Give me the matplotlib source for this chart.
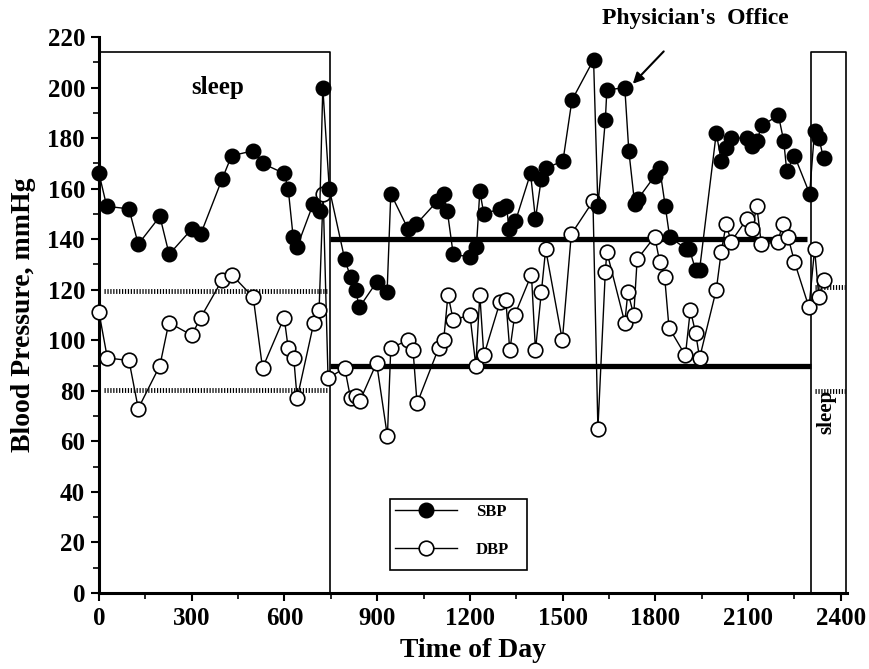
import matplotlib
matplotlib.use("Agg")
import matplotlib.pyplot as plt
from matplotlib.ticker import MultipleLocator
from matplotlib.patches import Rectangle

# ---------------- data ----------------
sbp_time = [0, 25, 97, 127, 197, 227, 300, 329, 399, 429, 499, 529, 599, 612, 628, 641,
            693, 714, 724, 745, 795, 814, 830, 842, 898, 932, 944, 1000, 1027, 1094, 1115,
            1127, 1146, 1200, 1221, 1232, 1245, 1297, 1318, 1327, 1347, 1396, 1412, 1431,
            1445, 1501, 1530, 1600, 1614, 1638, 1643, 1701, 1714, 1733, 1744, 1798, 1814,
            1832, 1846, 1900, 1910, 1930, 1943, 1997, 2013, 2029, 2043, 2096, 2112, 2128,
            2145, 2198, 2215, 2225, 2250, 2299, 2315, 2329, 2344]
sbp = [166, 153, 152, 138, 149, 134, 144, 142, 164, 173, 175, 170, 166, 160, 141, 137,
       154, 151, 200, 160, 132, 125, 120, 113, 123, 119, 158, 144, 146, 155, 158,
       151, 134, 133, 137, 159, 150, 152, 153, 144, 147, 166, 148, 164,
       168, 171, 195, 211, 153, 187, 199, 200, 175, 154, 156, 165, 168,
       153, 141, 136, 136, 128, 128, 182, 171, 176, 180, 180, 177, 179,
       185, 189, 179, 167, 173, 158, 183, 180, 172]

dbp_time = [0, 27, 97, 127, 197, 226, 300, 329, 399, 429, 499, 529, 599, 612, 630, 641,
            695, 712, 725, 741, 795, 814, 830, 844, 898, 933, 944, 1000, 1016, 1029, 1099,
            1115, 1129, 1146, 1200, 1219, 1232, 1245, 1297, 1316, 1329, 1345, 1399, 1412,
            1431, 1445, 1499, 1528, 1598, 1614, 1638, 1643, 1701, 1711, 1730, 1741, 1798,
            1814, 1830, 1844, 1897, 1913, 1930, 1943, 1997, 2013, 2029, 2045, 2096, 2113,
            2128, 2143, 2196, 2212, 2229, 2250, 2297, 2315, 2329, 2344]
dbp = [111, 93, 92, 73, 90, 107, 102, 109, 124, 126, 117, 89, 109, 97, 93, 77,
       107, 112, 158, 85, 89, 77, 78, 76, 91, 62, 97, 100, 96, 75, 97,
       100, 118, 108, 110, 90, 118, 94, 115, 116, 96, 110, 126, 96,
       119, 136, 100, 142, 155, 65, 127, 135, 107, 119, 110, 132, 141,
       131, 125, 105, 94, 112, 103, 93, 120, 135, 146, 139, 148, 144,
       153, 138, 139, 146, 141, 131, 113, 136, 117, 124]

x_ticks = [0, 300, 600, 900, 1200, 1500, 1800, 2100, 2400]
y_ticks = [0, 20, 40, 60, 80, 100, 120, 140, 160, 180, 200, 220]

sleep_start_end = [0, 747]
sleep_night = [2305, 2418]
sleep_top = 214
wake_limits = [140, 90]
sleep_limits_left = [119.5, 80.5]
sleep_limits_right = [121, 80]

# ---------------- style ----------------
serif = ["Liberation Serif", "DejaVu Serif"]
plt.rcParams["font.family"] = serif
plt.rcParams["font.weight"] = "bold"

fig = plt.figure(figsize=(8.7, 6.69), dpi=100)
ax = fig.add_axes([0.1138, 0.1136, 0.8598, 0.8311])

ax.set_xlim(0, 2420)
ax.set_ylim(0, 220)

# sleep boxes
for (x0, x1) in [sleep_start_end, sleep_night]:
    ax.plot([x0, x0, x1, x1], [0, sleep_top, sleep_top, 0], color="black", lw=1.2, zorder=1)

# thick wake reference lines
ax.plot([747, 2292], [wake_limits[0]] * 2, color="black", lw=3.8, solid_capstyle="butt", zorder=2)
ax.plot([747, 2305], [wake_limits[1]] * 2, color="black", lw=3.8, solid_capstyle="butt", zorder=2)

# dotted sleep reference lines
for yv in sleep_limits_left:
    ax.plot([15, 742], [yv, yv], color="black", lw=3.5, linestyle=(0, (0.25, 0.35)), zorder=2)
for yv in sleep_limits_right:
    ax.plot([2315, 2412], [yv, yv], color="black", lw=3.5, linestyle=(0, (0.25, 0.35)), zorder=2)

# data
ax.plot(sbp_time, sbp, color="black", lw=1.0, marker="o", markersize=10.5,
        markerfacecolor="black", markeredgecolor="black", markeredgewidth=1.0,
        label="SBP", zorder=4, clip_on=False)
ax.plot(dbp_time, dbp, color="black", lw=1.0, marker="o", markersize=10.5,
        markerfacecolor="white", markeredgecolor="black", markeredgewidth=1.2,
        label="DBP", zorder=3, clip_on=False)

# text
ax.text(385, 200, "sleep", fontsize=18, fontweight="bold", ha="center", va="center")
ax.text(2353, 71.5, "sleep", fontsize=15, fontweight="bold", ha="center", va="center", rotation=90)
ax.annotate("Physician's  Office", xy=(1727, 201.5), xytext=(1930, 227.5),
            textcoords="data", fontsize=17, fontweight="bold", ha="center", va="center",
            annotation_clip=False,
            arrowprops=dict(arrowstyle="-|>", color="black", lw=1.5, mutation_scale=16,
                            shrinkA=20, shrinkB=0))

# axes styling
ax.spines["top"].set_visible(False)
ax.spines["right"].set_visible(False)
ax.spines["left"].set_linewidth(2.2)
ax.spines["bottom"].set_linewidth(2.2)
ax.set_xticks(x_ticks)
ax.set_yticks(y_ticks)
ax.xaxis.set_minor_locator(MultipleLocator(150))
ax.yaxis.set_minor_locator(MultipleLocator(10))
ax.tick_params(which="major", direction="out", length=6, width=1.5, labelsize=18, pad=4)
ax.tick_params(which="minor", direction="out", length=4, width=1.2)
for lab in ax.get_xticklabels() + ax.get_yticklabels():
    lab.set_fontweight("bold")

ax.set_xlabel("Time of Day", fontsize=20, fontweight="bold", labelpad=6)
ax.set_ylabel("Blood Pressure, mmHg", fontsize=20, fontweight="bold", labelpad=8)

# legend (frame drawn separately to match the reference box)
ax.add_patch(Rectangle((0.389, 0.0414), 0.183, 0.128, transform=ax.transAxes,
                       facecolor="white", edgecolor="black", lw=1.2, zorder=5))
leg = ax.legend(loc="center left", bbox_to_anchor=(0.3957, 0.1115), fontsize=12,
                frameon=False, handlelength=3.7, handletextpad=1.15, borderpad=0,
                labelspacing=1.3, borderaxespad=0)
leg.set_zorder(6)
for t in leg.get_texts():
    t.set_fontweight("bold")

fig.savefig("out.png", dpi=100)
